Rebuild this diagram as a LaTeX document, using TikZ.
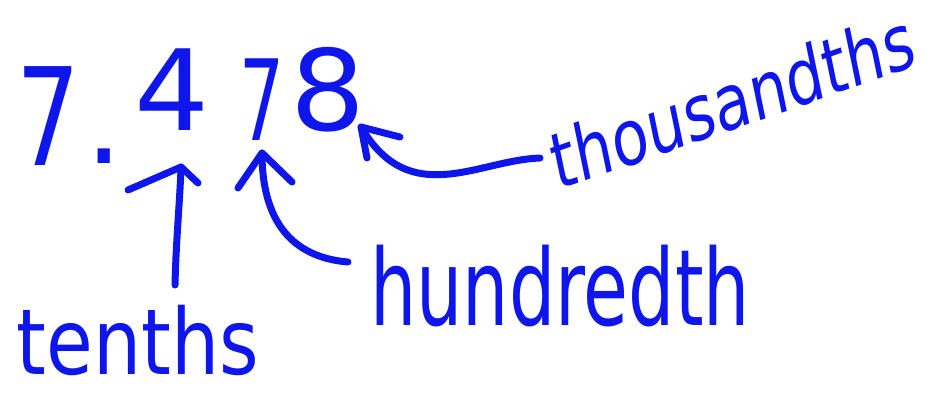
\documentclass[tikz,border=0pt]{standalone}
\usepackage{fontspec}
\setmainfont{DejaVu Sans}
\definecolor{ink}{RGB}{14,22,236}
\begin{document}
\begin{tikzpicture}[x=1pt,y=-1pt,
  stroke/.style={draw=ink,line width=7pt,line cap=round,line join=round},
  digit/.style={text=ink,inner sep=0pt,anchor=base,font=\fontsize{118}{118}\selectfont},
  word/.style={text=ink,inner sep=0pt,anchor=base}]
\useasboundingbox (0,0) rectangle (929,392);
% number 7.478
\node[digit,xscale=0.85,yscale=1.15] (d1) at (48,165) {7};
\node[digit] (dp) at (104,163) {.};
\node[digit,yscale=0.95] (d2) at (172,130) {4};
\node[digit,xscale=0.6,yscale=0.95] (d3) at (262,140) {7};
\node[digit,yscale=0.95] (d4) at (328,130) {8};
% labels
\node[word,font=\fontsize{76}{76}\selectfont,yscale=1.2] (tenths) at (138,374) {tenths};
\node[word,font=\fontsize{73}{73}\selectfont,yscale=1.45] (hund) at (560,325) {hundredth};
\node[word,font=\fontsize{60}{60}\selectfont,yscale=1.3,rotate=15] (thou) at (738,128) {thousandths};
% arrow points
\coordinate (t1) at (175,285);
\coordinate (t2) at (181,167);
\coordinate (h1) at (348,262);
\coordinate (h2) at (262,153);
\coordinate (s1) at (540,158);
\coordinate (s2) at (361,127);
% arrows
\draw[stroke] (t1) .. controls (176,240) and (180,200) .. (t2);
\draw[stroke] (128,190) -- (t2) -- (198,183);
\draw[stroke] (h1) .. controls (300,258) and (262,230) .. (h2);
\draw[stroke] (238,188) -- (h2) -- (292,182);
\draw[stroke] (s1) .. controls (478,160) and (410,210) .. (s2);
\draw[stroke] (367,158) -- (s2) -- (400,137);
\end{tikzpicture}
\end{document}
